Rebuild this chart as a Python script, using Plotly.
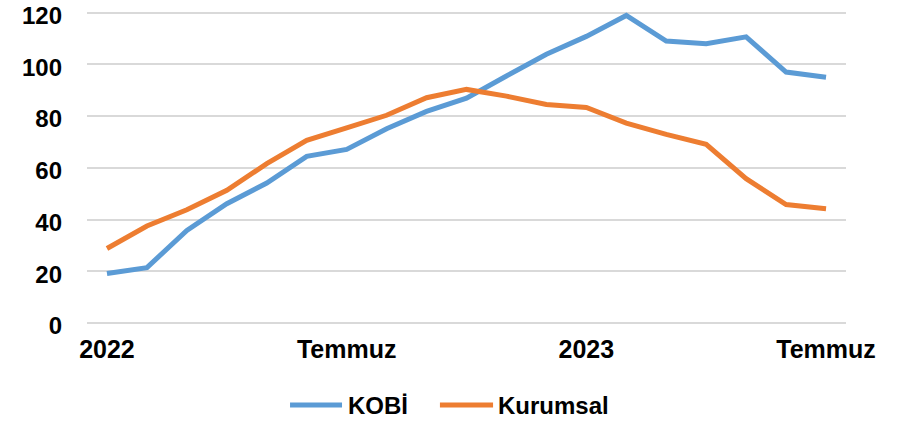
import plotly.graph_objects as go

# Monthly points, Jan 2022 .. Jul 2023
months = [
    "2022-01", "2022-02", "2022-03", "2022-04", "2022-05", "2022-06",
    "2022-07", "2022-08", "2022-09", "2022-10", "2022-11", "2022-12",
    "2023-01", "2023-02", "2023-03", "2023-04", "2023-05", "2023-06",
    "2023-07",
]
kobi = [19.1, 21.4, 35.8, 46.1, 54.1, 64.4, 67.1, 75.1, 81.8, 86.9,
        95.5, 103.9, 110.8, 118.9, 109.0, 108.0, 110.6, 97.0, 95.0]
kurumsal = [28.8, 37.5, 43.8, 51.3, 61.6, 70.6, 75.4, 80.3, 87.1, 90.3,
            87.7, 84.5, 83.3, 77.3, 72.9, 69.1, 55.8, 45.8, 44.2]
tick_months = ["2022-01", "2022-07", "2023-01", "2023-07"]
tick_labels = ["2022", "Temmuz", "2023", "Temmuz"]
y_ticks = [0, 20, 40, 60, 80, 100, 120]

FONT = "Liberation Sans, Arial, sans-serif"
series = [("KOBİ", kobi, "#5B9BD5"), ("Kurumsal", kurumsal, "#ED7D31")]

fig = go.Figure()
for name, vals, color in series:
    fig.add_trace(go.Scatter(x=months, y=vals, mode="lines", name=name,
                             line=dict(color=color, width=5), showlegend=False))

# hand-drawn legend below the plot (Excel-style long line keys)
legend_y = -0.262
key_pos = [(0.2675, 0.336, 0.341), (0.465, 0.535, 0.539)]
for (name, _, color), (x0, x1, xt) in zip(series, key_pos):
    fig.add_shape(type="line", xref="paper", yref="paper",
                  x0=x0, x1=x1, y0=legend_y, y1=legend_y,
                  line=dict(color=color, width=5))
    fig.add_annotation(xref="paper", yref="paper", x=xt, y=legend_y,
                       text=name, showarrow=False, xanchor="left", yanchor="middle",
                       font=dict(size=24, weight=700, color="black"))

fig.update_layout(
    width=908,
    height=421,
    paper_bgcolor="white",
    plot_bgcolor="white",
    margin=dict(l=87, r=62, t=10, b=98),
    font=dict(family=FONT, size=24, color="black", weight=700),
    showlegend=False,
    xaxis=dict(
        type="category",
        range=[-0.5, 18.5],
        tickvals=tick_months,
        ticktext=tick_labels,
        showgrid=False,
        showline=False,
        ticks="",
        automargin=False,
        ticklabelstandoff=9,
        tickfont=dict(size=25, weight=700),
    ),
    yaxis=dict(
        range=[0, 121],
        tickvals=y_ticks,
        showgrid=True,
        gridcolor="#d9d9d9",
        gridwidth=1.5,
        zeroline=True,
        zerolinecolor="#d9d9d9",
        zerolinewidth=1.5,
        ticks="",
        automargin=False,
        ticklabeloverflow="allow",
        ticklabelstandoff=24,
        ticklabelshift=3,
        tickfont=dict(size=24, weight=700),
    ),
)

# drop the page's default body margin so the figure sits at the window origin
fig.write_html("out.html", config={"displayModeBar": False},
               post_script="document.body.style.margin='0';")
